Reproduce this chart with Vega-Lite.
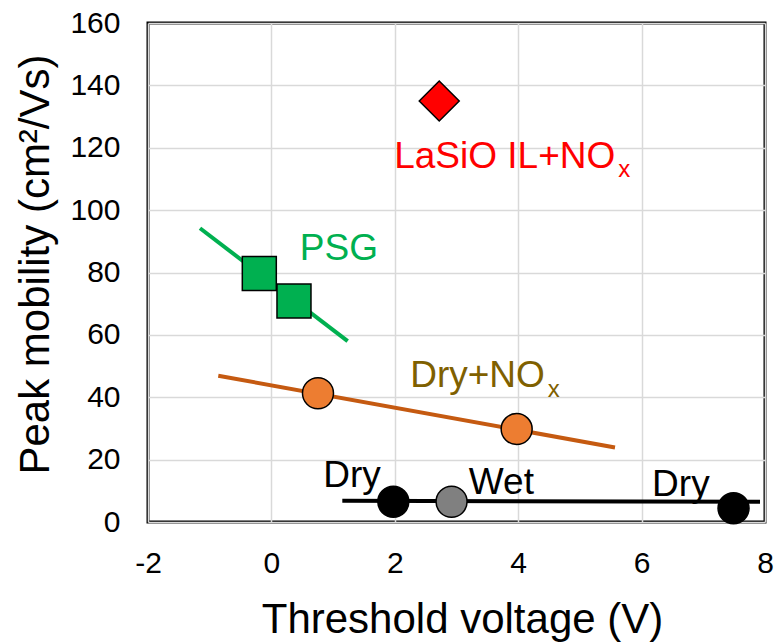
{
  "$schema": "https://vega.github.io/schema/vega-lite/v6.json",
  "autosize": {"type": "none"},
  "width": 617,
  "height": 499,
  "padding": {"left": 148, "top": 23, "right": 12, "bottom": 121},
  "background": "white",
  "config": {
    "font": "Liberation Sans",
    "view": {"stroke": "black", "strokeWidth": 3}
  },
  "datasets": {
    "lines": [
      {"x": -1.157, "y": 94.2, "series": "PSG"},
      {"x": 1.236, "y": 58.0, "series": "PSG"},
      {"x": -0.861, "y": 46.9, "series": "DryNOx"},
      {"x": 5.569, "y": 23.9, "series": "DryNOx"},
      {"x": 1.149, "y": 6.8, "series": "Dry"},
      {"x": 7.919, "y": 6.5, "series": "Dry"}
    ],
    "points": [
      {"x": -0.196, "y": 79.7, "group": "PSG"},
      {"x": 0.366, "y": 70.9, "group": "PSG"},
      {"x": 0.755, "y": 41.3, "group": "DryNOx"},
      {"x": 3.975, "y": 29.8, "group": "DryNOx"},
      {"x": 1.976, "y": 6.5, "group": "Dry"},
      {"x": 2.92, "y": 6.5, "group": "Wet"},
      {"x": 7.49, "y": 4.4, "group": "Dry"},
      {"x": 2.72, "y": 135.0, "group": "LaSiO"}
    ],
    "labels": [
      {"x": 1.99, "y": 113.5, "text": "LaSiO IL+NO", "group": "LaSiO", "kind": "main"},
      {"x": 5.62, "y": 110.6, "text": "x", "group": "LaSiO", "kind": "sub"},
      {"x": 0.46, "y": 84.0, "text": "PSG", "group": "PSG", "kind": "main"},
      {"x": 2.25, "y": 43.3, "text": "Dry+NO", "group": "DryNOx", "kind": "main"},
      {"x": 4.48, "y": 40.1, "text": "x", "group": "DryNOx", "kind": "sub"},
      {"x": 0.84, "y": 11.2, "text": "Dry", "group": "Dry", "kind": "main"},
      {"x": 3.2, "y": 9.0, "text": "Wet", "group": "Wet", "kind": "main"},
      {"x": 6.17, "y": 8.3, "text": "Dry", "group": "Dry", "kind": "main"}
    ]
  },
  "encoding": {
    "x": {
      "field": "x", "type": "quantitative",
      "scale": {"domain": [-2, 8], "nice": false, "zero": false},
      "axis": {
        "values": [-2, 0, 2, 4, 6, 8],
        "labelExpr": "datum.value < 0 ? '-' + abs(datum.value) : '' + datum.value",
        "labelFlush": false,
        "grid": true, "gridColor": "#d9d9d9", "gridWidth": 1.5,
        "domain": false, "ticks": false,
        "labelFont": "Liberation Sans", "labelFontSize": 30, "labelFontWeight": "normal", "labelColor": "black",
        "labelPadding": 26,
        "title": "Threshold voltage (V)",
        "titleFont": "Liberation Sans", "titleFontSize": 42, "titleFontWeight": "normal", "titleColor": "black",
        "titleX": 314, "titleY": 110, "titleBaseline": "alphabetic", "titleAlign": "center"
      }
    },
    "y": {
      "field": "y", "type": "quantitative",
      "scale": {"domain": [0, 160], "nice": false},
      "axis": {
        "values": [0, 20, 40, 60, 80, 100, 120, 140, 160],
        "labelExpr": "'' + datum.value",
        "labelFlush": false,
        "grid": true, "gridColor": "#d9d9d9", "gridWidth": 1.5,
        "domain": false, "ticks": false,
        "labelFont": "Liberation Sans", "labelFontSize": 30, "labelFontWeight": "normal", "labelColor": "black",
        "labelPadding": 28,
        "title": "Peak mobility (cm²/Vs)",
        "titleFont": "Liberation Sans", "titleFontSize": 42, "titleFontWeight": "normal", "titleColor": "black",
        "titleX": -100, "titleY": 241, "titleAngle": -90, "titleBaseline": "alphabetic", "titleAlign": "center"
      }
    }
  },
  "layer": [
    {
      "data": {"name": "lines"},
      "mark": {"type": "line", "strokeWidth": 4, "clip": true},
      "encoding": {
        "detail": {"field": "series"},
        "color": {
          "field": "series", "type": "nominal",
          "scale": {"domain": ["PSG", "DryNOx", "Dry"], "range": ["#00b050", "#c55a11", "#000000"]},
          "legend": null
        }
      }
    },
    {
      "data": {"name": "points"},
      "transform": [{"filter": "datum.group === 'PSG'"}],
      "mark": {"type": "point", "shape": "square", "size": 1156, "filled": true, "opacity": 1, "fill": "#00b050", "stroke": "black", "strokeWidth": 1.5},
      "encoding": {}
    },
    {
      "data": {"name": "points"},
      "transform": [{"filter": "datum.group === 'DryNOx' || datum.group === 'Dry' || datum.group === 'Wet'"}],
      "mark": {"type": "point", "shape": "circle", "size": 961, "filled": true, "opacity": 1, "stroke": "black", "strokeWidth": 1.5},
      "encoding": {
        "fill": {
          "field": "group", "type": "nominal",
          "scale": {"domain": ["DryNOx", "Dry", "Wet"], "range": ["#ed7d31", "#000000", "#808080"]},
          "legend": null
        }
      }
    },
    {
      "data": {"name": "points"},
      "transform": [{"filter": "datum.group === 'LaSiO'"}],
      "mark": {"type": "point", "shape": "diamond", "size": 1600, "filled": true, "opacity": 1, "fill": "#ff0000", "stroke": "black", "strokeWidth": 1.5},
      "encoding": {}
    },
    {
      "data": {"name": "labels"},
      "mark": {"type": "text", "align": "left", "baseline": "alphabetic", "font": "Liberation Sans"},
      "encoding": {
        "text": {"field": "text"},
        "color": {
          "field": "group", "type": "nominal",
          "scale": {"domain": ["LaSiO", "PSG", "DryNOx", "Dry", "Wet"], "range": ["#ff0000", "#00b050", "#7f6000", "#000000", "#000000"]},
          "legend": null
        },
        "size": {
          "field": "kind", "type": "nominal",
          "scale": {"domain": ["main", "sub"], "range": [37, 24]},
          "legend": null
        }
      }
    }
  ],
  "resolve": {"scale": {"color": "independent", "fill": "independent", "size": "independent"}}
}
